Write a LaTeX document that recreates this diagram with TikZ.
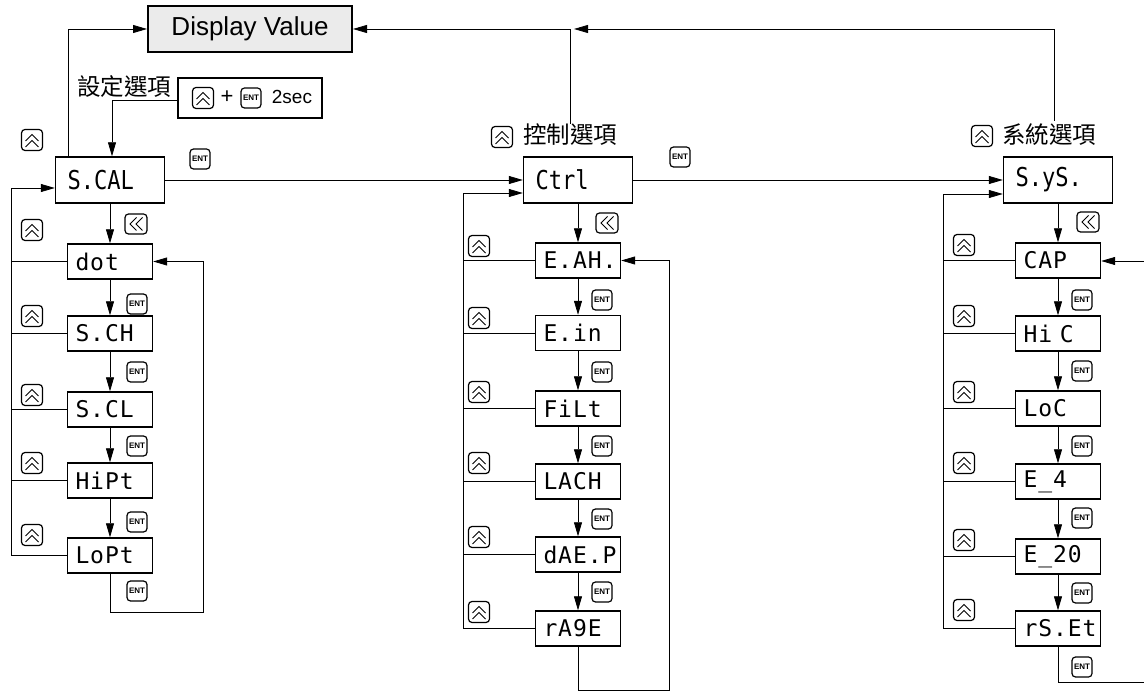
\documentclass[tikz,border=0pt]{standalone}
\usepackage{fontspec}
\setmainfont{Liberation Sans}
\newfontfamily\segf[FakeStretch=0.85]{DejaVu Sans Mono}
\newfontfamily\segi[LetterSpace=4]{DejaVu Sans Mono}
\newfontfamily\cjkf{Noto Sans CJK TC}
\usetikzlibrary{arrows.meta}
\tikzset{
  ln/.style={line width=0.8pt},
  arr/.style={ln,-{Triangle[length=14pt,width=8pt]}},
  hdrbox/.style={draw,line width=1.4pt,minimum height=46pt,text width=85pt,inner xsep=12pt,inner ysep=0pt,align=left,font=\segf\fontsize{26}{26}\selectfont},
  itembox/.style={draw,line width=1.4pt,minimum height=35pt,text width=69pt,inner xsep=8pt,inner ysep=0pt,align=left,font=\segi\fontsize{23}{23}\selectfont},
  keyframe/.style={draw,line width=1.2pt,rounded corners=3.5pt,minimum width=21pt,minimum height=21pt,inner sep=0pt},
  upkey/.style={keyframe,path picture={\draw[line width=0.9pt,sharp corners]
    ([shift={(-6.5,1)}]path picture bounding box.center) -- ([shift={(0,-5.5)}]path picture bounding box.center) -- ([shift={(6.5,1)}]path picture bounding box.center)
    ([shift={(-6.5,7)}]path picture bounding box.center) -- ([shift={(0,0.5)}]path picture bounding box.center) -- ([shift={(6.5,7)}]path picture bounding box.center);}},
  leftkey/.style={keyframe,minimum width=22pt,minimum height=20pt,path picture={\draw[line width=0.9pt,sharp corners]
    ([shift={(0.5,-6.5)}]path picture bounding box.center) -- ([shift={(-6,0)}]path picture bounding box.center) -- ([shift={(0.5,6.5)}]path picture bounding box.center)
    ([shift={(6.5,-6.5)}]path picture bounding box.center) -- ([shift={(0,0)}]path picture bounding box.center) -- ([shift={(6.5,6.5)}]path picture bounding box.center);}},
  entkey/.style={keyframe,minimum width=20pt,minimum height=20pt,font=\bfseries\fontsize{8}{8}\selectfont},
  cjk/.style={inner sep=0pt,font=\cjkf\fontsize{23.5}{24}\selectfont},
}
\begin{document}
\begin{tikzpicture}[x=1pt,y=-1pt]
\useasboundingbox (0,0) rectangle (1144,692);

% top display
\node[draw,line width=2pt,fill=black!8,minimum width=204pt,minimum height=46pt,inner sep=0pt,font=\fontsize{26}{26}\selectfont] (disp) at (250,29) {Display Value};

% key combination box
\node[draw,line width=1.6pt,minimum width=144pt,minimum height=40pt,inner sep=0pt] (kbox) at (250,98) {};
\node[upkey] (kup) at (203,98) {};
\node[inner sep=0pt,font=\fontsize{22}{22}\selectfont] (kplus) at (227,97) {+};
\node[entkey] (kent) at (251,98) {ENT};
\node[inner sep=0pt,font=\fontsize{19}{19}\selectfont] (ksec) at (292,97) {2sec};
\node[cjk] (lab1) at (124,87) {設定選項};

% headers
\node[hdrbox] (scal) at (110,180) {S.CAL};
\node[hdrbox] (ctrl) at (578,180) {Ctrl};
\node[hdrbox] (sys) at (1058,180) {S.yS.};

% left column
\node[itembox] (dot)  at (110,261.5) {dot};
\node[itembox] (sch)  at (110,333.5) {S.CH};
\node[itembox] (scl)  at (110,409.5) {S.CL};
\node[itembox] (hipt) at (110,480.5) {HiPt};
\node[itembox] (lopt) at (110,555.5) {LoPt};

% center column
\node[itembox] (eah)  at (578,260.5) {E.AH.};
\node[itembox] (ein)  at (578,333) {E.in};
\node[itembox] (filt) at (578,408.5) {FiLt};
\node[itembox] (lach) at (578,481.5) {LACH};
\node[itembox] (daep) at (578,554.5) {dAE.P};
\node[itembox] (rage) at (578,628.5) {rA9E};

% right column
\node[itembox] (cap)  at (1058,260.5) {CAP};
\node[itembox] (hic)  at (1058,333.5) {Hi C};
\node[itembox] (loc)  at (1058,408.5) {LoC};
\node[itembox] (e4)   at (1058,481.5) {E\_4};
\node[itembox] (e20)  at (1058,556.5) {E\_20};
\node[itembox] (rset) at (1058,628.5) {rS.Et};

% column arrows
\draw[arr] (scal) -- (dot);
\draw[arr] (dot) -- (sch);
\draw[arr] (sch) -- (scl);
\draw[arr] (scl) -- (hipt);
\draw[arr] (hipt) -- (lopt);
\draw[arr] (ctrl) -- (eah);
\draw[arr] (eah) -- (ein);
\draw[arr] (ein) -- (filt);
\draw[arr] (filt) -- (lach);
\draw[arr] (lach) -- (daep);
\draw[arr] (daep) -- (rage);
\draw[arr] (sys) -- (cap);
\draw[arr] (cap) -- (hic);
\draw[arr] (hic) -- (loc);
\draw[arr] (loc) -- (e4);
\draw[arr] (e4) -- (e20);
\draw[arr] (e20) -- (rset);

% header chain
\draw[arr] (scal) -- (ctrl);
\draw[arr] (ctrl) -- (sys);

% feedback (up key) lines
\coordinate (fbL) at (11,188);
\foreach \n in {dot,sch,scl,hipt,lopt} \draw[ln] (\n.west) -- (\n.west -| fbL);
\draw[arr] (lopt.west -| fbL) -- (fbL) -- (fbL -| scal.west);
\coordinate (fbC) at (463,193);
\foreach \n in {eah,ein,filt,lach,daep,rage} \draw[ln] (\n.west) -- (\n.west -| fbC);
\draw[arr] (rage.west -| fbC) -- (fbC) -- (fbC -| ctrl.west);
\coordinate (fbR) at (943,194);
\foreach \n in {cap,hic,loc,e4,e20,rset} \draw[ln] (\n.west) -- (\n.west -| fbR);
\draw[arr] (rset.west -| fbR) -- (fbR) -- (fbR -| sys.west);

% loops (ENT)
\coordinate (lpL) at (203,612);
\draw[arr] (lopt.south) -- (lopt.south |- lpL) -- (lpL) -- (lpL |- dot.east) -- (dot.east);
\coordinate (lpC) at (669,690);
\draw[arr] (rage.south) -- (rage.south |- lpC) -- (lpC) -- (lpC |- eah.east) -- (eah.east);
\coordinate (lpR1) at (1144,682);
\coordinate (lpR2) at (1144,261);
\draw[ln] (rset.south) -- (rset.south |- lpR1) -- (lpR1);
\draw[arr] (lpR2) -- (lpR2 -| cap.east);

% lines to display value
\coordinate (tL) at (68,29);
\draw[arr] (scal.north -| tL) -- (tL) -- (disp.west);
\coordinate (tC1) at (570,124);
\coordinate (tC2) at (570,29);
\draw[arr] (tC1) -- (tC2) -- (disp.east);
\coordinate (tR1) at (1054,121);
\coordinate (tR2) at (1054,29);
\draw[arr,shorten >=4pt] (tR1) -- (tR2) -- (tC2);

% key combo to S.CAL
\coordinate (kL) at (112,100);
\draw[arr] (kbox.west |- kL) -- (kL) -- (kL |- scal.north);

% section labels
\node[upkey] (uctrl) at (502,137) {};
\node[cjk] (lab2) at (570,135) {控制選項};
\node[upkey] (usys) at (982,136) {};
\node[cjk] (lab3) at (1049,135) {系統選項};

% left column keys
\node[upkey] (ul0) at (32,140) {};
\node[upkey] (ul1) at (32,230) {};
\node[upkey] (ul2) at (32,316) {};
\node[upkey] (ul3) at (32,395) {};
\node[upkey] (ul4) at (32,463) {};
\node[upkey] (ul5) at (32,535) {};
\node[entkey] (el0) at (200,159) {ENT};
\node[leftkey] (sl) at (136,224) {};
\node[entkey] (el1) at (137,304) {ENT};
\node[entkey] (el2) at (137,372) {ENT};
\node[entkey] (el3) at (137,446) {ENT};
\node[entkey] (el4) at (137,522) {ENT};
\node[entkey] (el5) at (137,591) {ENT};

% center column keys
\node[upkey] (uc1) at (479,246) {};
\node[upkey] (uc2) at (479,318) {};
\node[upkey] (uc3) at (479,392) {};
\node[upkey] (uc4) at (479,463) {};
\node[upkey] (uc5) at (479,537) {};
\node[upkey] (uc6) at (479,612) {};
\node[entkey] (ec0) at (680,157) {ENT};
\node[leftkey] (sc) at (607,223) {};
\node[entkey] (ec1) at (602,300) {ENT};
\node[entkey] (ec2) at (602,372) {ENT};
\node[entkey] (ec3) at (602,446) {ENT};
\node[entkey] (ec4) at (602,519) {ENT};
\node[entkey] (ec5) at (602,592) {ENT};

% right column keys
\node[upkey] (ur1) at (964,245) {};
\node[upkey] (ur2) at (964,316) {};
\node[upkey] (ur3) at (964,392) {};
\node[upkey] (ur4) at (964,463) {};
\node[upkey] (ur5) at (964,540) {};
\node[upkey] (ur6) at (964,610) {};
\node[leftkey] (sr) at (1088,222) {};
\node[entkey] (er1) at (1082,300) {ENT};
\node[entkey] (er2) at (1082,371) {ENT};
\node[entkey] (er3) at (1082,446) {ENT};
\node[entkey] (er4) at (1082,518) {ENT};
\node[entkey] (er5) at (1082,593) {ENT};
\node[entkey] (er6) at (1082,667) {ENT};
\end{tikzpicture}
\end{document}
